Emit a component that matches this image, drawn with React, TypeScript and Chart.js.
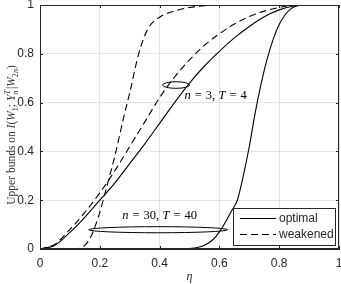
import React, { useEffect, useRef } from 'react';
import { Chart, registerables } from 'chart.js';

Chart.register(...registerables);

// ---- data ----
const etaN3Optimal = [0, 0.05, 0.1, 0.15, 0.2, 0.25, 0.3, 0.35, 0.4, 0.45, 0.5, 0.55, 0.6, 0.65, 0.7, 0.75, 0.8, 0.85, 0.9, 1];
const valN3Optimal = [0, 0.015, 0.068, 0.13, 0.2, 0.27, 0.35, 0.43, 0.515, 0.6, 0.68, 0.75, 0.81, 0.865, 0.912, 0.952, 0.98, 0.996, 1, 1];

const etaN3Weakened = [0, 0.05, 0.1, 0.15, 0.2, 0.25, 0.3, 0.35, 0.4, 0.45, 0.5, 0.55, 0.6, 0.65, 0.7, 0.75, 0.8, 0.85, 1];
const valN3Weakened = [0, 0.02, 0.08, 0.15, 0.23, 0.32, 0.42, 0.52, 0.62, 0.705, 0.775, 0.835, 0.882, 0.922, 0.953, 0.975, 0.99, 1, 1];

const etaN30Optimal = [0, 0.4, 0.45, 0.5, 0.53, 0.55, 0.58, 0.6, 0.62, 0.64, 0.66, 0.68, 0.7, 0.72, 0.74, 0.76, 0.78, 0.8, 0.82, 0.84, 0.86, 0.88, 1];
const valN30Optimal = [0, 0, 0.0005, 0.002, 0.007, 0.015, 0.04, 0.07, 0.11, 0.155, 0.2, 0.3, 0.42, 0.56, 0.68, 0.78, 0.86, 0.92, 0.96, 0.985, 0.997, 1, 1];

const etaN30Weakened = [0, 0.1, 0.13, 0.15, 0.17, 0.2, 0.22, 0.25, 0.28, 0.3, 0.33, 0.36, 0.4, 0.45, 0.5, 0.55, 0.6, 1];
const valN30Weakened = [0, 0, 0.002, 0.015, 0.05, 0.15, 0.24, 0.38, 0.54, 0.64, 0.8, 0.9, 0.95, 0.975, 0.99, 0.997, 1, 1];

const xTicks = [0, 0.2, 0.4, 0.6, 0.8, 1];
const yTicks = [0, 0.2, 0.4, 0.6, 0.8, 1];
const legendLabels = ['optimal', 'weakened'];

// annotation ellipses (data coords): [centerEta, centerVal, halfEta, halfVal]
const ellipseN3 = [0.455, 0.672, 0.045, 0.0135];
const ellipseN30 = [0.395, 0.079, 0.232, 0.0125];

const SERIF = '"Liberation Serif", "DejaVu Serif", serif';
const SANS = '"Liberation Sans", Arial, Helvetica, sans-serif';
const INK = '#262626';

type Part = { t?: string; it?: boolean; sc?: number; dy?: number; adv?: number; gap?: number };

function fontOf(p: Part, size: number) {
  return `${p.it ? 'italic ' : ''}${size * (p.sc ?? 1)}px ${SERIF}`;
}
function measureRich(ctx: CanvasRenderingContext2D, parts: Part[], size: number) {
  let w = 0;
  for (const p of parts) {
    if (p.gap !== undefined) { w += p.gap; continue; }
    ctx.font = fontOf(p, size);
    w += p.adv ?? ctx.measureText(p.t || '').width;
  }
  return w;
}
function drawRich(ctx: CanvasRenderingContext2D, parts: Part[], x: number, y: number, size: number) {
  let cx = x;
  ctx.textBaseline = 'alphabetic';
  ctx.textAlign = 'left';
  for (const p of parts) {
    if (p.gap !== undefined) { cx += p.gap; continue; }
    ctx.font = fontOf(p, size);
    ctx.fillText(p.t || '', cx, y + (p.dy ?? 0));
    cx += p.adv ?? ctx.measureText(p.t || '').width;
  }
}

const yTitleParts: Part[] = [
  { t: 'Upper bunds on ' },
  { t: 'I', it: true }, { t: '(' }, { t: 'W', it: true }, { t: '1', sc: 0.7, dy: 2.5 },
  { t: ';' }, { gap: 3 }, { t: 'Y', it: true },
  { t: 'T', it: true, sc: 0.7, dy: -5, adv: 0 }, { t: 'n', it: true, sc: 0.7, dy: 2.5 },
  { gap: 1.5 }, { t: '|' }, { t: 'W', it: true }, { t: '2', sc: 0.7, dy: 2.5 }, { t: 'n', it: true, sc: 0.7, dy: 2.5 }, { t: ')' },
];
const annN30: Part[] = [
  { t: 'n', it: true }, { gap: 4 }, { t: '=' }, { gap: 4 }, { t: '30,' }, { gap: 3.5 },
  { t: 'T', it: true }, { gap: 4 }, { t: '=' }, { gap: 4 }, { t: '40' },
];
const annN3: Part[] = [
  { t: 'n', it: true }, { gap: 4 }, { t: '=' }, { gap: 4 }, { t: '3,' }, { gap: 3.5 },
  { t: 'T', it: true }, { gap: 4 }, { t: '=' }, { gap: 4 }, { t: '4' },
];

const overlay = {
  id: 'overlay',
  beforeDraw(chart: any) {
    const ctx = chart.ctx;
    ctx.save();
    ctx.fillStyle = '#ffffff';
    ctx.fillRect(0, 0, chart.width, chart.height);
    ctx.restore();
  },
  afterDraw(chart: any) {
    const ctx: CanvasRenderingContext2D = chart.ctx;
    const { left, right, top, bottom } = chart.chartArea;
    const xs = chart.scales.x;
    const ys = chart.scales.y;
    ctx.save();
    // box
    ctx.strokeStyle = INK;
    ctx.lineWidth = 1;
    ctx.strokeRect(Math.round(left) + 0.5, Math.round(top) + 0.5, Math.round(right - left) - 1, Math.round(bottom - top) - 1);
    // inward ticks
    const tl = 3;
    ctx.beginPath();
    for (const v of xTicks) {
      const px = Math.round(xs.getPixelForValue(v)) + 0.5;
      ctx.moveTo(px, bottom); ctx.lineTo(px, bottom - tl);
      ctx.moveTo(px, top); ctx.lineTo(px, top + tl);
    }
    for (const v of yTicks) {
      const py = Math.round(ys.getPixelForValue(v)) + 0.5;
      ctx.moveTo(left, py); ctx.lineTo(left + tl, py);
      ctx.moveTo(right, py); ctx.lineTo(right - tl, py);
    }
    ctx.stroke();

    // ellipses
    ctx.strokeStyle = '#000';
    ctx.lineWidth = 1;
    for (const e of [ellipseN3, ellipseN30]) {
      const cx = xs.getPixelForValue(e[0]);
      const cy = ys.getPixelForValue(e[1]);
      const rx = Math.abs(xs.getPixelForValue(e[0] + e[2]) - cx);
      const ry = Math.abs(ys.getPixelForValue(e[1] + e[3]) - cy);
      ctx.beginPath();
      ctx.ellipse(cx, cy, rx, ry, 0, 0, Math.PI * 2);
      ctx.stroke();
    }

    // annotations
    ctx.fillStyle = '#000';
    const aSize = 12.5;
    {
      const w = measureRich(ctx, annN30, aSize);
      const cx = xs.getPixelForValue(0.4);
      const cy = ys.getPixelForValue(0.139);
      drawRich(ctx, annN30, cx - w / 2, cy + 4, aSize);
    }
    {
      const x0 = xs.getPixelForValue(0.483);
      const cy = ys.getPixelForValue(0.631);
      drawRich(ctx, annN3, x0, cy + 4, aSize);
    }

    // legend
    const lw = 102, lh = 37;
    const lx = Math.round(right) - 4 - lw, ly = Math.round(bottom) - 4 - lh;
    ctx.fillStyle = '#fff';
    ctx.fillRect(lx, ly, lw, lh);
    ctx.strokeStyle = INK;
    ctx.strokeRect(lx + 0.5, ly + 0.5, lw, lh);
    ctx.strokeStyle = '#000';
    const rows = [ly + 10.5, ly + 26.5];
    legendLabels.forEach((lab, i) => {
      ctx.beginPath();
      ctx.setLineDash(i === 0 ? [] : [7, 4]);
      ctx.moveTo(lx + 7, rows[i]);
      ctx.lineTo(lx + 43, rows[i]);
      ctx.stroke();
      ctx.setLineDash([]);
      ctx.fillStyle = INK;
      ctx.font = `12px ${SANS}`;
      ctx.textAlign = 'left';
      ctx.textBaseline = 'middle';
      ctx.fillText(lab, lx + 46, rows[i] + 0.5);
    });

    // x title
    ctx.fillStyle = INK;
    ctx.font = `italic 12px ${SERIF}`;
    ctx.textAlign = 'center';
    ctx.textBaseline = 'middle';
    ctx.fillText('\u03b7', (left + right) / 2, 277);

    // y title
    ctx.fillStyle = '#333';
    const tSize = 11.5;
    const tw = measureRich(ctx, yTitleParts, tSize);
    ctx.translate(11, 135);
    ctx.rotate(-Math.PI / 2);
    drawRich(ctx, yTitleParts, -tw / 2, 4, tSize);
    ctx.restore();
  },
};

function toPoints(xsArr: number[], ysArr: number[]) {
  return xsArr.map((x, i) => ({ x, y: ysArr[i] }));
}

export default function App() {
  const ref = useRef<HTMLCanvasElement | null>(null);
  useEffect(() => {
    if (!ref.current) return;
    const base = {
      borderColor: '#000',
      borderWidth: 1.1,
      pointRadius: 0,
      fill: false,
      cubicInterpolationMode: 'monotone' as const,
    };
    const chart = new Chart(ref.current, {
      type: 'line',
      data: {
        datasets: [
          { ...base, label: 'optimal n=3', data: toPoints(etaN3Optimal, valN3Optimal) },
          { ...base, label: 'weakened n=3', data: toPoints(etaN3Weakened, valN3Weakened), borderDash: [7, 4] },
          { ...base, label: 'optimal n=30', data: toPoints(etaN30Optimal, valN30Optimal) },
          { ...base, label: 'weakened n=30', data: toPoints(etaN30Weakened, valN30Weakened), borderDash: [7, 4] },
        ],
      },
      options: {
        responsive: false,
        animation: false,
        layout: { padding: { top: 5, right: 2, left: 0, bottom: 0 } },
        plugins: { legend: { display: false }, tooltip: { enabled: false } },
        scales: {
          x: {
            type: 'linear',
            min: 0,
            max: 1,
            afterFit: (s: any) => { s.height = 35; s.paddingLeft = 0; s.paddingRight = 0; },
            afterBuildTicks: (s: any) => { s.ticks = xTicks.map((v) => ({ value: v })); },
            grid: { color: '#e4e4e4', drawTicks: false },
            border: { color: INK },
            ticks: { padding: 7, maxRotation: 0, color: INK, font: { family: SANS, size: 12 }, callback: (v: any) => String(v) },
          },
          y: {
            type: 'linear',
            min: 0,
            max: 1,
            afterFit: (s: any) => { s.width = 40; s.paddingTop = 0; s.paddingBottom = 0; },
            afterBuildTicks: (s: any) => { s.ticks = yTicks.map((v) => ({ value: v })); },
            grid: { color: '#e4e4e4', drawTicks: false },
            border: { color: INK },
            ticks: { padding: 6, color: INK, font: { family: SANS, size: 12 }, callback: (v: any) => String(v) },
          },
        },
      },
      plugins: [overlay],
    });
    return () => chart.destroy();
  }, []);
  return (
    <div style={{ position: 'fixed', left: 0, top: 0, width: 341, height: 284, background: '#fff' }}>
      <canvas ref={ref} width={341} height={284} style={{ display: 'block', width: 341, height: 284 }} />
    </div>
  );
}
